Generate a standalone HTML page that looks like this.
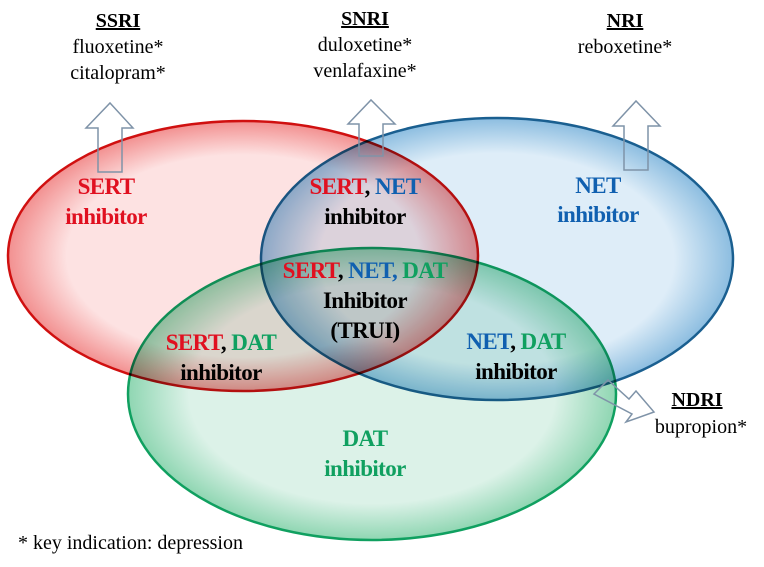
<!DOCTYPE html>
<html><head><style>
body{margin:0;width:764px;height:562px;background:#fff;overflow:hidden}
.e{mix-blend-mode:multiply}
</style></head><body>
<svg width="764" height="562" xmlns="http://www.w3.org/2000/svg" font-family="Liberation Serif, serif" style="isolation:isolate">
<defs>
<radialGradient id="gr" cx="0.5" cy="0.5" r="0.5"><stop offset="0.75" stop-color="#fde2e2"/><stop offset="1" stop-color="#f29090"/></radialGradient>
<radialGradient id="gb" cx="0.5" cy="0.5" r="0.5"><stop offset="0.75" stop-color="#deedf8"/><stop offset="1" stop-color="#8cbde0"/></radialGradient>
<radialGradient id="gg" cx="0.5" cy="0.5" r="0.5"><stop offset="0.75" stop-color="#dcf2e8"/><stop offset="1" stop-color="#8fd6b2"/></radialGradient>
</defs>
<ellipse class="e" cx="243" cy="256" rx="235" ry="135" fill="url(#gr)" stroke="#d01010" stroke-width="2.5"/>
<ellipse class="e" cx="497" cy="259" rx="236" ry="141" fill="url(#gb)" stroke="#1a5f90" stroke-width="2.5"/>
<ellipse class="e" cx="372" cy="394" rx="244" ry="146" fill="url(#gg)" stroke="#10a060" stroke-width="2.5"/>
<g fill="none" stroke="#7f93a8" stroke-width="1.5">
<path d="M98,172 V128 H86 L110,103 L133,128 H122 V172 Z"/>
<path d="M359,156 V124 H348 L371,100 L395,124 H383 V156 Z"/>
<path d="M624,170 V126 H613 L636,101 L660,126 H648 V170 Z"/>
<path d="M594,394 L608,380 L629,399 L636,391 L654,412 L626,422 L632,414 Z"/>
</g>
<g font-size="20" text-anchor="middle" fill="#000">
<text x="118" y="27" font-weight="bold" text-decoration="underline">SSRI</text>
<text x="118" y="53">fluoxetine*</text>
<text x="118" y="79">citalopram*</text>
<text x="365" y="25" font-weight="bold" text-decoration="underline">SNRI</text>
<text x="365" y="51">duloxetine*</text>
<text x="365" y="77">venlafaxine*</text>
<text x="625" y="27" font-weight="bold" text-decoration="underline">NRI</text>
<text x="625" y="53">reboxetine*</text>
<text x="697" y="406" font-weight="bold" text-decoration="underline">NDRI</text>
<text x="701" y="433">bupropion*</text>
</g>
<g font-size="23" font-weight="bold" text-anchor="middle" letter-spacing="-0.6">
<text x="106" y="194" fill="#e01020">SERT</text>
<text x="106" y="224" fill="#e01020">inhibitor</text>
<text x="365" y="194"><tspan fill="#e01020">SERT</tspan><tspan fill="#000">, </tspan><tspan fill="#1060b0">NET</tspan></text>
<text x="365" y="224" fill="#000">inhibitor</text>
<text x="598" y="193" fill="#1060b0">NET</text>
<text x="598" y="222" fill="#1060b0">inhibitor</text>
<text x="365" y="278"><tspan fill="#e01020">SERT</tspan><tspan fill="#000">, </tspan><tspan fill="#1060b0">NET, </tspan><tspan fill="#10a060">DAT</tspan></text>
<text x="365" y="308" fill="#000">Inhibitor</text>
<text x="365" y="338" fill="#000">(TRUI)</text>
<text x="221" y="350"><tspan fill="#e01020">SERT</tspan><tspan fill="#000">, </tspan><tspan fill="#10a060">DAT</tspan></text>
<text x="221" y="380" fill="#000">inhibitor</text>
<text x="516" y="349"><tspan fill="#1060b0">NET</tspan><tspan fill="#000">, </tspan><tspan fill="#10a060">DAT</tspan></text>
<text x="516" y="379" fill="#000">inhibitor</text>
<text x="365" y="446" fill="#10a060">DAT</text>
<text x="365" y="476" fill="#10a060">inhibitor</text>
</g>
<text x="18" y="549" font-size="20" fill="#000">* key indication: depression</text>
</svg>
</body></html>
